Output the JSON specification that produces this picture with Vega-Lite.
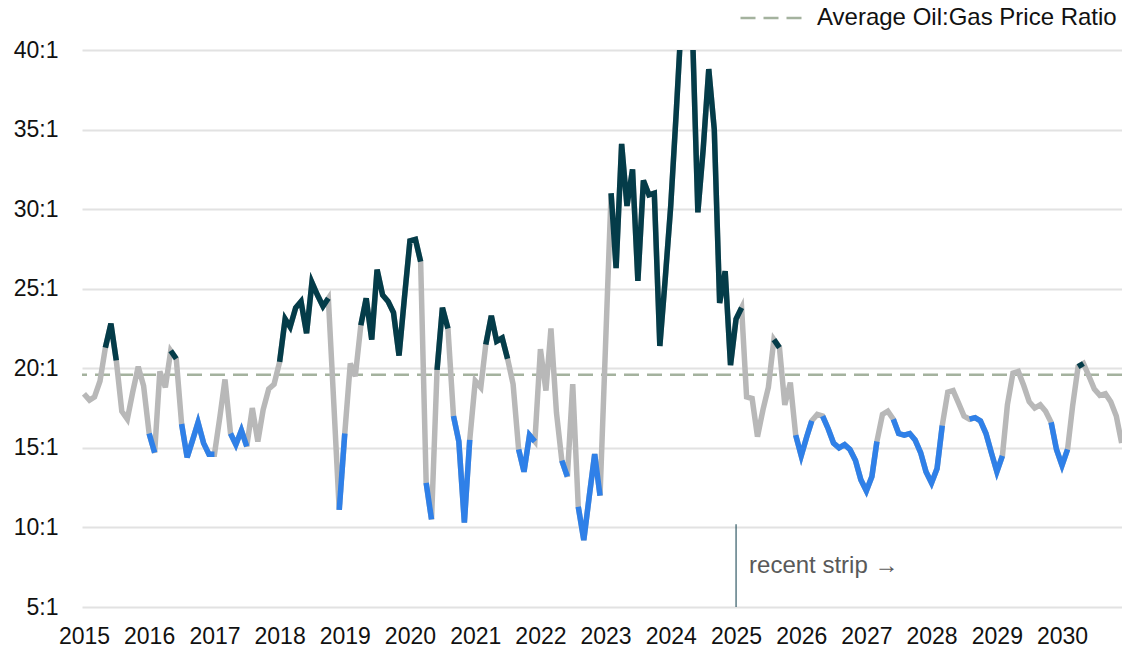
{
  "$schema": "https://vega.github.io/schema/vega-lite/v6.json",
  "width": 1040,
  "height": 557,
  "autosize": {"type": "none"},
  "padding": {"left": 82, "top": 50, "right": 0, "bottom": 42},
  "background": "white",
  "config": {
    "view": {"stroke": null},
    "font": "Liberation Sans"
  },
  "datasets": {
    "ratio": [
      {"d":"2015-01-01","v":18.4,"r":"mid","g":0},
      {"d":"2015-02-01","v":18.0,"r":"mid","g":0},
      {"d":"2015-03-01","v":18.2,"r":"mid","g":0},
      {"d":"2015-04-01","v":19.2,"r":"mid","g":0},
      {"d":"2015-05-01","v":21.3,"r":"high","g":1},
      {"d":"2015-06-01","v":22.8,"r":"high","g":1},
      {"d":"2015-07-01","v":20.5,"r":"high","g":1},
      {"d":"2015-08-01","v":17.3,"r":"mid","g":0},
      {"d":"2015-09-01","v":16.8,"r":"mid","g":0},
      {"d":"2015-10-01","v":18.5,"r":"mid","g":0},
      {"d":"2015-11-01","v":20.1,"r":"mid","g":0},
      {"d":"2015-12-01","v":18.9,"r":"mid","g":0},
      {"d":"2016-01-01","v":15.9,"r":"low","g":2},
      {"d":"2016-02-01","v":14.7,"r":"low","g":2},
      {"d":"2016-03-01","v":19.8,"r":"mid","g":0},
      {"d":"2016-04-01","v":18.8,"r":"mid","g":0},
      {"d":"2016-05-01","v":21.1,"r":"high","g":3},
      {"d":"2016-06-01","v":20.6,"r":"high","g":3},
      {"d":"2016-07-01","v":16.5,"r":"low","g":4},
      {"d":"2016-08-01","v":14.4,"r":"low","g":4},
      {"d":"2016-09-01","v":15.5,"r":"low","g":4},
      {"d":"2016-10-01","v":16.6,"r":"low","g":4},
      {"d":"2016-11-01","v":15.3,"r":"low","g":4},
      {"d":"2016-12-01","v":14.6,"r":"low","g":4},
      {"d":"2017-01-01","v":14.6,"r":"low","g":4},
      {"d":"2017-02-01","v":17.0,"r":"mid","g":0},
      {"d":"2017-03-01","v":19.3,"r":"mid","g":0},
      {"d":"2017-04-01","v":15.9,"r":"low","g":5},
      {"d":"2017-05-01","v":15.2,"r":"low","g":5},
      {"d":"2017-06-01","v":16.1,"r":"low","g":5},
      {"d":"2017-07-01","v":15.1,"r":"low","g":5},
      {"d":"2017-08-01","v":17.5,"r":"mid","g":0},
      {"d":"2017-09-01","v":15.4,"r":"mid","g":0},
      {"d":"2017-10-01","v":17.4,"r":"mid","g":0},
      {"d":"2017-11-01","v":18.7,"r":"mid","g":0},
      {"d":"2017-12-01","v":19.0,"r":"mid","g":0},
      {"d":"2018-01-01","v":20.4,"r":"high","g":6},
      {"d":"2018-02-01","v":23.1,"r":"high","g":6},
      {"d":"2018-03-01","v":22.6,"r":"high","g":6},
      {"d":"2018-04-01","v":23.8,"r":"high","g":6},
      {"d":"2018-05-01","v":24.2,"r":"high","g":6},
      {"d":"2018-06-01","v":22.2,"r":"high","g":6},
      {"d":"2018-07-01","v":25.4,"r":"high","g":6},
      {"d":"2018-08-01","v":24.6,"r":"high","g":6},
      {"d":"2018-09-01","v":23.9,"r":"high","g":6},
      {"d":"2018-10-01","v":24.4,"r":"high","g":6},
      {"d":"2018-11-01","v":17.7,"r":"mid","g":0},
      {"d":"2018-12-01","v":11.1,"r":"low","g":7},
      {"d":"2019-01-01","v":15.9,"r":"low","g":7},
      {"d":"2019-02-01","v":20.3,"r":"mid","g":0},
      {"d":"2019-03-01","v":19.5,"r":"mid","g":0},
      {"d":"2019-04-01","v":22.7,"r":"high","g":8},
      {"d":"2019-05-01","v":24.4,"r":"high","g":8},
      {"d":"2019-06-01","v":21.8,"r":"high","g":8},
      {"d":"2019-07-01","v":26.2,"r":"high","g":8},
      {"d":"2019-08-01","v":24.6,"r":"high","g":8},
      {"d":"2019-09-01","v":24.2,"r":"high","g":8},
      {"d":"2019-10-01","v":23.5,"r":"high","g":8},
      {"d":"2019-11-01","v":20.8,"r":"high","g":8},
      {"d":"2019-12-01","v":24.4,"r":"high","g":8},
      {"d":"2020-01-01","v":28.0,"r":"high","g":8},
      {"d":"2020-02-01","v":28.1,"r":"high","g":8},
      {"d":"2020-03-01","v":26.7,"r":"high","g":8},
      {"d":"2020-04-01","v":12.8,"r":"low","g":9},
      {"d":"2020-05-01","v":10.5,"r":"low","g":9},
      {"d":"2020-06-01","v":19.9,"r":"high","g":10},
      {"d":"2020-07-01","v":23.8,"r":"high","g":10},
      {"d":"2020-08-01","v":22.5,"r":"high","g":10},
      {"d":"2020-09-01","v":17.0,"r":"low","g":11},
      {"d":"2020-10-01","v":15.4,"r":"low","g":11},
      {"d":"2020-11-01","v":10.3,"r":"low","g":11},
      {"d":"2020-12-01","v":15.5,"r":"low","g":11},
      {"d":"2021-01-01","v":19.2,"r":"mid","g":0},
      {"d":"2021-02-01","v":18.8,"r":"mid","g":0},
      {"d":"2021-03-01","v":21.5,"r":"high","g":12},
      {"d":"2021-04-01","v":23.3,"r":"high","g":12},
      {"d":"2021-05-01","v":21.7,"r":"high","g":12},
      {"d":"2021-06-01","v":21.9,"r":"high","g":12},
      {"d":"2021-07-01","v":20.6,"r":"high","g":12},
      {"d":"2021-08-01","v":19.0,"r":"mid","g":0},
      {"d":"2021-09-01","v":14.9,"r":"low","g":13},
      {"d":"2021-10-01","v":13.5,"r":"low","g":13},
      {"d":"2021-11-01","v":15.8,"r":"low","g":13},
      {"d":"2021-12-01","v":15.4,"r":"low","g":13},
      {"d":"2022-01-01","v":21.2,"r":"mid","g":0},
      {"d":"2022-02-01","v":18.6,"r":"mid","g":0},
      {"d":"2022-03-01","v":22.5,"r":"mid","g":0},
      {"d":"2022-04-01","v":17.2,"r":"mid","g":0},
      {"d":"2022-05-01","v":14.2,"r":"low","g":14},
      {"d":"2022-06-01","v":13.2,"r":"low","g":14},
      {"d":"2022-07-01","v":19.0,"r":"mid","g":0},
      {"d":"2022-08-01","v":11.3,"r":"low","g":15},
      {"d":"2022-09-01","v":9.2,"r":"low","g":15},
      {"d":"2022-10-01","v":11.9,"r":"low","g":15},
      {"d":"2022-11-01","v":14.6,"r":"low","g":15},
      {"d":"2022-12-01","v":12.0,"r":"low","g":15},
      {"d":"2023-01-01","v":21.5,"r":"mid","g":0},
      {"d":"2023-02-01","v":31.0,"r":"high","g":16},
      {"d":"2023-03-01","v":26.3,"r":"high","g":16},
      {"d":"2023-04-01","v":34.1,"r":"high","g":16},
      {"d":"2023-05-01","v":30.2,"r":"high","g":16},
      {"d":"2023-06-01","v":32.5,"r":"high","g":16},
      {"d":"2023-07-01","v":25.5,"r":"high","g":16},
      {"d":"2023-08-01","v":31.8,"r":"high","g":16},
      {"d":"2023-09-01","v":30.9,"r":"high","g":16},
      {"d":"2023-10-01","v":31.0,"r":"high","g":16},
      {"d":"2023-11-01","v":21.4,"r":"high","g":16},
      {"d":"2023-12-01","v":25.6,"r":"high","g":16},
      {"d":"2024-01-01","v":30.2,"r":"high","g":16},
      {"d":"2024-02-01","v":36.1,"r":"high","g":16},
      {"d":"2024-03-01","v":42.0,"r":"high","g":16},
      {"d":"2024-04-01","v":45.0,"r":"high","g":16},
      {"d":"2024-05-01","v":41.5,"r":"high","g":16},
      {"d":"2024-06-01","v":29.8,"r":"high","g":16},
      {"d":"2024-07-01","v":33.8,"r":"high","g":16},
      {"d":"2024-08-01","v":38.8,"r":"high","g":16},
      {"d":"2024-09-01","v":35.0,"r":"high","g":16},
      {"d":"2024-10-01","v":24.1,"r":"high","g":16},
      {"d":"2024-11-01","v":26.1,"r":"high","g":16},
      {"d":"2024-12-01","v":20.2,"r":"high","g":16},
      {"d":"2025-01-01","v":23.1,"r":"high","g":16},
      {"d":"2025-02-01","v":23.8,"r":"high","g":16},
      {"d":"2025-03-01","v":18.2,"r":"mid","g":0},
      {"d":"2025-04-01","v":18.1,"r":"mid","g":0},
      {"d":"2025-05-01","v":15.7,"r":"mid","g":0},
      {"d":"2025-06-01","v":17.4,"r":"mid","g":0},
      {"d":"2025-07-01","v":18.8,"r":"mid","g":0},
      {"d":"2025-08-01","v":21.8,"r":"high","g":17},
      {"d":"2025-09-01","v":21.3,"r":"high","g":17},
      {"d":"2025-10-01","v":17.7,"r":"mid","g":0},
      {"d":"2025-11-01","v":19.1,"r":"mid","g":0},
      {"d":"2025-12-01","v":15.8,"r":"low","g":18},
      {"d":"2026-01-01","v":14.5,"r":"low","g":18},
      {"d":"2026-02-01","v":15.7,"r":"low","g":18},
      {"d":"2026-03-01","v":16.7,"r":"low","g":18},
      {"d":"2026-04-01","v":17.1,"r":"mid","g":0},
      {"d":"2026-05-01","v":17.0,"r":"low","g":19},
      {"d":"2026-06-01","v":16.2,"r":"low","g":19},
      {"d":"2026-07-01","v":15.3,"r":"low","g":19},
      {"d":"2026-08-01","v":15.0,"r":"low","g":19},
      {"d":"2026-09-01","v":15.2,"r":"low","g":19},
      {"d":"2026-10-01","v":14.9,"r":"low","g":19},
      {"d":"2026-11-01","v":14.2,"r":"low","g":19},
      {"d":"2026-12-01","v":13.0,"r":"low","g":19},
      {"d":"2027-01-01","v":12.3,"r":"low","g":19},
      {"d":"2027-02-01","v":13.2,"r":"low","g":19},
      {"d":"2027-03-01","v":15.4,"r":"low","g":19},
      {"d":"2027-04-01","v":17.1,"r":"mid","g":0},
      {"d":"2027-05-01","v":17.3,"r":"mid","g":0},
      {"d":"2027-06-01","v":16.8,"r":"low","g":20},
      {"d":"2027-07-01","v":15.9,"r":"low","g":20},
      {"d":"2027-08-01","v":15.8,"r":"low","g":20},
      {"d":"2027-09-01","v":15.9,"r":"low","g":20},
      {"d":"2027-10-01","v":15.5,"r":"low","g":20},
      {"d":"2027-11-01","v":14.7,"r":"low","g":20},
      {"d":"2027-12-01","v":13.5,"r":"low","g":20},
      {"d":"2028-01-01","v":12.8,"r":"low","g":20},
      {"d":"2028-02-01","v":13.7,"r":"low","g":20},
      {"d":"2028-03-01","v":16.4,"r":"low","g":20},
      {"d":"2028-04-01","v":18.5,"r":"mid","g":0},
      {"d":"2028-05-01","v":18.6,"r":"mid","g":0},
      {"d":"2028-06-01","v":17.8,"r":"mid","g":0},
      {"d":"2028-07-01","v":17.0,"r":"mid","g":0},
      {"d":"2028-08-01","v":16.8,"r":"low","g":21},
      {"d":"2028-09-01","v":16.9,"r":"low","g":21},
      {"d":"2028-10-01","v":16.7,"r":"low","g":21},
      {"d":"2028-11-01","v":15.9,"r":"low","g":21},
      {"d":"2028-12-01","v":14.7,"r":"low","g":21},
      {"d":"2029-01-01","v":13.5,"r":"low","g":21},
      {"d":"2029-02-01","v":14.5,"r":"low","g":21},
      {"d":"2029-03-01","v":17.7,"r":"mid","g":0},
      {"d":"2029-04-01","v":19.7,"r":"mid","g":0},
      {"d":"2029-05-01","v":19.8,"r":"mid","g":0},
      {"d":"2029-06-01","v":18.9,"r":"mid","g":0},
      {"d":"2029-07-01","v":17.9,"r":"mid","g":0},
      {"d":"2029-08-01","v":17.5,"r":"mid","g":0},
      {"d":"2029-09-01","v":17.7,"r":"mid","g":0},
      {"d":"2029-10-01","v":17.3,"r":"mid","g":0},
      {"d":"2029-11-01","v":16.6,"r":"low","g":22},
      {"d":"2029-12-01","v":14.9,"r":"low","g":22},
      {"d":"2030-01-01","v":13.9,"r":"low","g":22},
      {"d":"2030-02-01","v":14.9,"r":"low","g":22},
      {"d":"2030-03-01","v":17.6,"r":"mid","g":0},
      {"d":"2030-04-01","v":20.1,"r":"high","g":23},
      {"d":"2030-05-01","v":20.3,"r":"high","g":23},
      {"d":"2030-06-01","v":19.5,"r":"mid","g":0},
      {"d":"2030-07-01","v":18.7,"r":"mid","g":0},
      {"d":"2030-08-01","v":18.3,"r":"mid","g":0},
      {"d":"2030-09-01","v":18.4,"r":"mid","g":0},
      {"d":"2030-10-01","v":17.9,"r":"mid","g":0},
      {"d":"2030-11-01","v":17.0,"r":"mid","g":0},
      {"d":"2030-12-01","v":15.3,"r":"mid","g":0}
    ]
  },
  "layer": [
    {
      "data": {"values": [{"avg": 19.6, "s": "Average Oil:Gas Price Ratio"}]},
      "mark": {"type": "rule", "color": "#a4b29e", "strokeWidth": 2.5},
      "encoding": {
        "y": {"field": "avg", "type": "quantitative", "title": null,
              "scale": {"domain": [5, 40], "nice": false, "zero": false}},
        "strokeDash": {
          "field": "s", "type": "nominal",
          "scale": {"range": [[15, 8]]},
          "legend": {
            "orient": "none", "legendX": 657, "legendY": -68, "title": null,
            "padding": 0, "symbolType": "stroke", "symbolSize": 4761,
            "symbolStrokeWidth": 2.5, "symbolStrokeColor": "#a4b29e",
            "symbolDash": [15, 8], "labelFontSize": 24, "labelColor": "#111111",
            "labelFont": "Liberation Sans", "labelOffset": 6, "labelLimit": 0
          }
        }
      }
    },
    {
      "data": {"name": "ratio"},
      "mark": {"type": "line", "color": "#b8b8b8", "strokeWidth": 5.5, "clip": true},
      "encoding": {
        "x": {
          "field": "d", "type": "temporal", "title": null,
          "scale": {"type": "utc", "domain": [{"year": 2014, "month": 12, "date": 21, "utc": true}, {"year": 2030, "month": 12, "date": 3, "utc": true}]},
          "axis": {
            "domain": false, "ticks": false, "tickSize": 0, "grid": false,
            "format": "%Y", "tickCount": {"interval": "year", "step": 1},
            "labelFontSize": 23, "labelColor": "#111111", "labelPadding": 18,
            "labelFont": "Liberation Sans", "labelFlush": false, "labelOverlap": false
          }
        },
        "y": {
          "field": "v", "type": "quantitative", "title": null,
          "scale": {"domain": [5, 40], "nice": false, "zero": false},
          "axis": {
            "domain": false, "ticks": false, "tickSize": 0,
            "values": [5, 10, 15, 20, 25, 30, 35, 40],
            "labelExpr": "datum.value + ':1'",
            "grid": true, "gridColor": "#e2e2e2", "gridWidth": 1.8,
            "labelFontSize": 23, "labelColor": "#111111", "labelPadding": 24,
            "labelFont": "Liberation Sans"
          }
        }
      }
    },
    {
      "data": {"name": "ratio"},
      "transform": [{"filter": "datum.r != 'mid'"}],
      "mark": {"type": "line", "strokeWidth": 5.5, "clip": true},
      "encoding": {
        "x": {"field": "d", "type": "temporal", "title": null,
              "scale": {"type": "utc", "domain": [{"year": 2014, "month": 12, "date": 21, "utc": true}, {"year": 2030, "month": 12, "date": 3, "utc": true}]}},
        "y": {"field": "v", "type": "quantitative", "title": null,
              "scale": {"domain": [5, 40], "nice": false, "zero": false}},
        "color": {"field": "r", "type": "nominal", "legend": null,
                  "scale": {"domain": ["high", "low"], "range": ["#043c49", "#2f80e8"]}},
        "detail": {"field": "g", "type": "nominal"}
      }
    },
    {
      "data": {"values": [{"d": "2025-01-01", "top": 10.2, "bot": 5}]},
      "mark": {"type": "rule", "color": "#0a3a47", "strokeWidth": 1},
      "encoding": {
        "x": {"field": "d", "type": "temporal", "title": null,
              "scale": {"type": "utc", "domain": [{"year": 2014, "month": 12, "date": 21, "utc": true}, {"year": 2030, "month": 12, "date": 3, "utc": true}]}},
        "y": {"field": "top", "type": "quantitative", "title": null,
              "scale": {"domain": [5, 40], "nice": false, "zero": false}},
        "y2": {"field": "bot"}
      }
    },
    {
      "data": {"values": [{"d": "2025-01-01", "y": 7.6, "t": "recent strip →"}]},
      "mark": {"type": "text", "align": "left", "baseline": "middle", "dx": 13,
               "fontSize": 24, "color": "#595959", "font": "Liberation Sans"},
      "encoding": {
        "x": {"field": "d", "type": "temporal", "title": null,
              "scale": {"type": "utc", "domain": [{"year": 2014, "month": 12, "date": 21, "utc": true}, {"year": 2030, "month": 12, "date": 3, "utc": true}]}},
        "y": {"field": "y", "type": "quantitative", "title": null,
              "scale": {"domain": [5, 40], "nice": false, "zero": false}},
        "text": {"field": "t"}
      }
    }
  ]
}
